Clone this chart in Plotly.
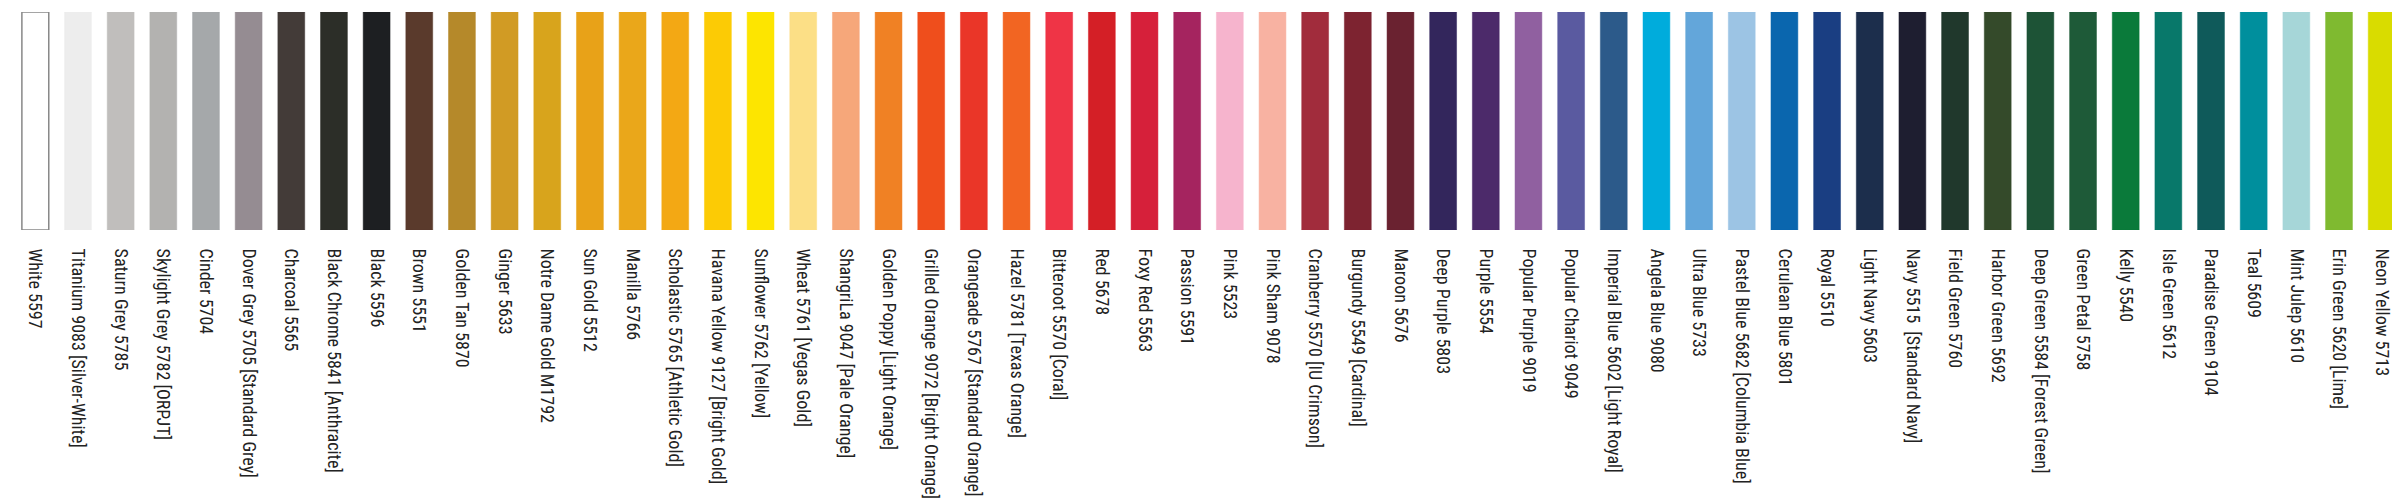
import plotly.graph_objects as go

names = ["White 5597","Titanium 9083 [Silver-White]","Saturn Grey 5785","Skylight Grey 5782 [ORPJT]","Cinder 5704",
"Dover Grey 5705 [Standard Grey]","Charcoal 5565","Black Chrome 5841 [Anthracite]","Black 5596","Brown 5551",
"Golden Tan 5870","Ginger 5633","Notre Dame Gold M1792","Sun Gold 5512","Manilla 5766","Scholastic 5765 [Athletic Gold]",
"Havana Yellow 9127 [Bright Gold]","Sunflower 5762 [Yellow]","Wheat 5761 [Vegas Gold]","ShangriLa 9047 [Pale Orange]",
"Golden Poppy [Light Orange]","Grilled Orange 9072 [Bright Orange]","Orangeade 5767 [Standard Orange]","Hazel 5781 [Texas Orange]",
"Bitteroot 5570 [Coral]","Red 5678","Foxy Red 5563","Passion 5591","Pink 5523","Pink Sham 9078",
"Cranberry 5570 [IU Crimson]","Burgundy 5549 [Cardinal]","Maroon 5676","Deep Purple 5803","Purple 5554","Popular Purple 9019",
"Popular Chariot 9049","Imperial Blue 5602 [Light Royal]","Angela Blue 9080","Ultra Blue 5733","Pastel Blue 5682 [Columbia Blue]",
"Cerulean Blue 5801","Royal 5510","Light Navy 5603","Navy 5515  [Standard Navy]","Field Green 5760","Harbor Green 5692",
"Deep Green 5584 [Forest Green]","Green Petal 5758","Kelly 5540","Isle Green 5612","Paradise Green 9104","Teal 5609",
"Mint Julep 5610","Erin Green 5620 [Lime]","Neon Yellow 5713"]
colors = ["#ffffff","#ededed","#c0bebc","#b3b2b0","#a5a8aa","#958c92","#433b38","#2c2e28","#1d1f22","#5a3a2c",
"#b5892a","#d19b24","#d8a41c","#e8a218","#eaa71a","#f3a814","#fccb05","#fde500","#fcdf86","#f6a77a",
"#f08124","#ef4e1c","#ea3628","#f26522","#ef3446","#d41f26","#d6203a","#a5245f","#f6b4cd","#f8b2a2",
"#a12c3c","#7d2330","#6a2230","#33265c","#4c2a6a","#9060a0","#5a5aa0","#2c5a8a","#00acdc","#63a6da",
"#9cc4e4","#0a66ae","#1a3e82","#1c2e4c","#1e1e30","#20382c","#344a2a","#1d5336","#1e5a38","#0a7a3a",
"#08786a","#0f5a5a","#008f9d","#a6d6d8","#7fba30","#d9dc00"]
values = [1]*len(names)

fig = go.Figure(go.Bar(
    x=names, y=values,
    marker=dict(color=colors,
                line=dict(color=["#888888"] + colors[1:], width=[1.5] + [0.5]*(len(colors)-1))),
    width=0.63, hoverinfo="x"))
fig.update_layout(
    width=2400, height=504, paper_bgcolor="white", plot_bgcolor="white",
    margin=dict(l=6, r=5, t=4, b=282), showlegend=False,
    font=dict(family="Liberation Sans Narrow, Roboto Condensed, Arial Narrow, sans-serif", color="#222", size=18),
    xaxis=dict(tickangle=90, ticks="outside", ticklen=14, tickcolor="white", showline=False,
               showgrid=False, zeroline=False, fixedrange=True),
    yaxis=dict(visible=False, range=[0, 1], fixedrange=True),
)
fig.write_html("out.html")
